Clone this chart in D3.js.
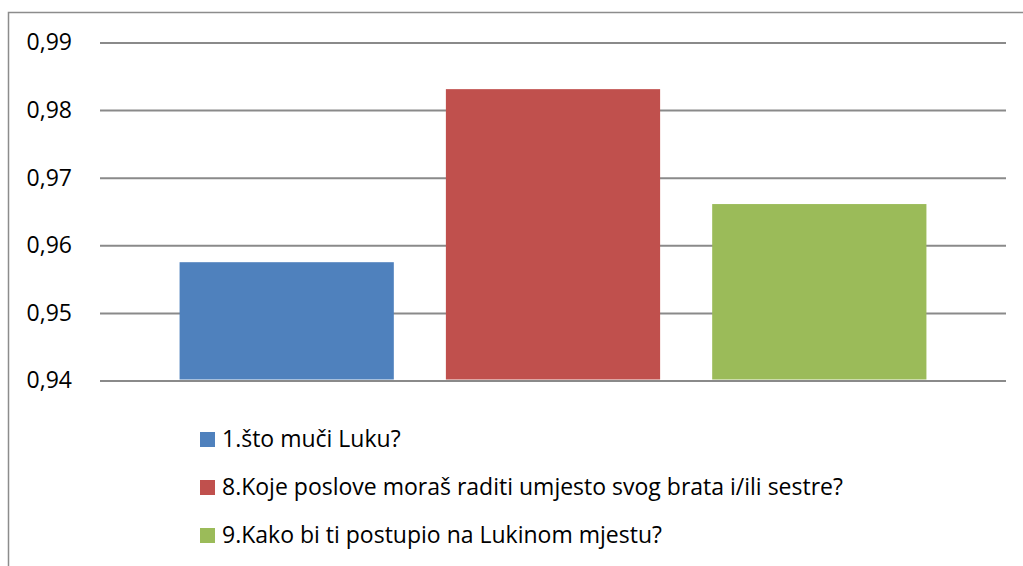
<!DOCTYPE html>
<html><head><meta charset="utf-8">
<script src="https://cdn.jsdelivr.net/npm/d3@7"></script>
<style>
html,body{margin:0;padding:0;background:#fff;}
svg{display:block;font-family:"Open Sans",sans-serif;}
</style></head>
<body>
<svg id="chart" width="1023" height="566"></svg>
<script>
const seriesNames = ["1.što muči Luku?", "8.Koje poslove moraš raditi umjesto svog brata i/ili sestre?", "9.Kako bi ti postupio na Lukinom mjestu?"];
const seriesValues = [0.9575, 0.9831, 0.9661];
const seriesColors = ["#4F81BD", "#C0504D", "#9BBB59"];
const yTicks = [0.94, 0.95, 0.96, 0.97, 0.98, 0.99];
const yTickLabels = ["0,94", "0,95", "0,96", "0,97", "0,98", "0,99"];

const svg = d3.select("#chart");
svg.append("path").attr("d", "M8.5,566 V12.5 H1023").attr("fill","none").attr("stroke","#8c8c8c").attr("stroke-width",1.5);

const pLeft = 100, pRight = 1006, pTop = 42.5, pBottom = 380.5;
const y = d3.scaleLinear().domain([0.94, 0.99]).range([pBottom, pTop]);
const x = d3.scaleBand().domain(seriesNames).range([pLeft, pRight]).paddingInner(0.1955).paddingOuter(0.2988);

const yAxis = d3.axisLeft(y).tickValues(yTicks).tickSize(-(pRight-pLeft)).tickFormat((d,i)=>yTickLabels[i]).tickPadding(28);
const ga = svg.append("g").attr("transform",`translate(${pLeft},0)`).call(yAxis);
ga.select(".domain").remove();
ga.selectAll(".tick line").attr("stroke","#8a8a8a").attr("stroke-width",2);
ga.selectAll(".tick text").attr("font-size",23).attr("fill","#000").attr("font-family","'Open Sans',sans-serif");

svg.append("g").selectAll("rect").data(seriesNames).join("rect")
  .attr("x", d=>x(d)).attr("width", x.bandwidth())
  .attr("y", (d,i)=>y(seriesValues[i])).attr("height",(d,i)=>y(0.94)-y(seriesValues[i]) - 1)
  .attr("fill",(d,i)=>seriesColors[i]);

const lg = svg.append("g");
const rows = lg.selectAll("g").data(seriesNames).join("g").attr("transform",(d,i)=>`translate(200,${432 + i*48})`);
rows.append("rect").attr("width",15).attr("height",15).attr("fill",(d,i)=>seriesColors[i]);
rows.append("text").attr("x",22).attr("y",15).attr("font-size",23).attr("fill","#000").text(d=>d);
</script>
</body></html>
